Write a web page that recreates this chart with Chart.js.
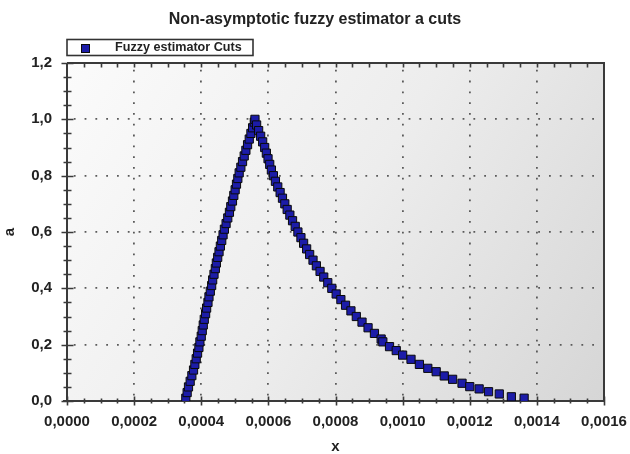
<!DOCTYPE html>
<html>
<head>
<meta charset="utf-8">
<script src="https://cdn.jsdelivr.net/npm/chart.js@4/dist/chart.umd.min.js"></script>
<style>
  html, body { margin: 0; padding: 0; background: #ffffff; }
  #wrap { width: 630px; height: 454px; }
</style>
</head>
<body>
<div id="wrap"><canvas id="c" width="630" height="454"></canvas></div>
<script>
// ---- data ----
const chartTitle = 'Non-asymptotic fuzzy estimator a cuts';
const seriesLabel = 'Fuzzy estimator Cuts';
const xAxisTitle = 'x';
const yAxisTitle = 'a';

const xTickLabels = ['0,0000', '0,0002', '0,0004', '0,0006', '0,0008', '0,0010', '0,0012', '0,0014', '0,0016'];
const yTickLabels = ['0,0', '0,2', '0,4', '0,6', '0,8', '1,0', '1,2'];

// rising branch (left side of the peak)
const leftBranchA = [0.01, 0.03, 0.05, 0.07, 0.09, 0.11, 0.13, 0.15, 0.17, 0.19,
                     0.21, 0.23, 0.25, 0.27, 0.29, 0.31, 0.33, 0.35, 0.37, 0.39,
                     0.41, 0.43, 0.45, 0.47, 0.49, 0.51, 0.53, 0.55, 0.57, 0.59,
                     0.61, 0.63, 0.65, 0.67, 0.69, 0.71, 0.73, 0.75, 0.77, 0.79,
                     0.81, 0.83, 0.85, 0.87, 0.89, 0.91, 0.93, 0.95, 0.97, 0.99];
const leftBranchX = [0.000354, 0.000358, 0.000362, 0.000367, 0.000372, 0.000377, 0.000381, 0.000385, 0.000389, 0.000393,
                     0.000396, 0.000400, 0.000403, 0.000406, 0.000409, 0.000413, 0.000416, 0.000420, 0.000423, 0.000427,
                     0.000431, 0.000434, 0.000438, 0.000442, 0.000445, 0.000449, 0.000453, 0.000457, 0.000461, 0.000465,
                     0.000469, 0.000474, 0.000479, 0.000484, 0.000488, 0.000493, 0.000497, 0.000501, 0.000505, 0.000509,
                     0.000513, 0.000518, 0.000523, 0.000528, 0.000533, 0.000538, 0.000543, 0.000548, 0.000553, 0.000558];

// falling branch (right side of the peak)
const rightBranchA = [1.00, 0.98, 0.96, 0.94, 0.92, 0.90, 0.88, 0.86, 0.84, 0.82,
                      0.80, 0.78, 0.76, 0.74, 0.72, 0.70, 0.68, 0.66, 0.64, 0.62,
                      0.60, 0.58, 0.56, 0.54, 0.52, 0.50, 0.48, 0.46, 0.44, 0.42,
                      0.40, 0.38, 0.36, 0.34, 0.32, 0.30, 0.28, 0.26, 0.24, 0.22,
                      0.210, 0.193, 0.179, 0.163, 0.148, 0.130, 0.116, 0.104, 0.089, 0.077,
                      0.063, 0.051, 0.043, 0.033, 0.025, 0.015, 0.010];
const rightBranchX = [0.000560, 0.000565, 0.000571, 0.000577, 0.000583, 0.000589, 0.000594, 0.000599, 0.000604, 0.000609,
                      0.000615, 0.000621, 0.000628, 0.000635, 0.000642, 0.000649, 0.000656, 0.000664, 0.000672, 0.000680,
                      0.000688, 0.000697, 0.000705, 0.000714, 0.000723, 0.000733, 0.000743, 0.000754, 0.000765, 0.000777,
                      0.000789, 0.000802, 0.000816, 0.000830, 0.000846, 0.000862, 0.000879, 0.000897, 0.000916, 0.000936,
                      0.000941, 0.000961, 0.000981, 0.001000, 0.001025, 0.001050, 0.001075, 0.001100, 0.001124, 0.001149,
                      0.001177, 0.001200, 0.001228, 0.001256, 0.001288, 0.001324, 0.001362];

// ---- build the point table for the library ----
const points = [];
leftBranchX.forEach((x, i) => points.push({ x: x, y: leftBranchA[i] }));
rightBranchX.forEach((x, i) => points.push({ x: x, y: rightBranchA[i] }));

const X_MIN = 0, X_MAX = 0.0016, X_STEP = 0.0002;
const Y_MIN = 0, Y_MAX = 1.2, Y_STEP = 0.2;

const markerFill = '#1c1ca8';
const markerEdge = '#0a0a0a';
const axisColor = '#3a3a3a';
const textColor = '#222222';

// plot-area background gradient
const plotBackground = {
  id: 'plotBackground',
  beforeDraw(chart) {
    const { ctx, chartArea: a } = chart;
    const g = ctx.createLinearGradient(a.left, a.top, a.right, a.bottom);
    g.addColorStop(0, '#fbfbfb');
    g.addColorStop(0.5, '#ededed');
    g.addColorStop(1, '#d6d6d6');
    ctx.save();
    ctx.fillStyle = g;
    ctx.fillRect(a.left, a.top, a.right - a.left, a.bottom - a.top);
    ctx.restore();
  }
};

// frame, axis lines, major and minor tick marks
const frameAndTicks = {
  id: 'frameAndTicks',
  beforeDatasetsDraw(chart) {
    const { ctx, chartArea: a, scales } = chart;
    const xs = scales.x, ys = scales.y;
    ctx.save();
    ctx.strokeStyle = axisColor;
    ctx.lineWidth = 2;
    ctx.beginPath();
    // top and right frame
    ctx.moveTo(a.left, a.top); ctx.lineTo(a.right, a.top); ctx.lineTo(a.right, a.bottom);
    // axes
    ctx.moveTo(a.left - 4, a.bottom); ctx.lineTo(a.right, a.bottom);
    ctx.moveTo(a.left, a.top); ctx.lineTo(a.left, a.bottom);
    ctx.stroke();

    ctx.lineWidth = 1.6;
    ctx.beginPath();
    const nx = Math.round((X_MAX - X_MIN) / X_STEP) * 4;
    for (let i = 0; i <= nx; i++) {
      const px = Math.round(xs.getPixelForValue(X_MIN + i * X_STEP / 4)) + 0.5;
      const major = i % 4 === 0;
      const d = major ? 4.5 : 2.5;
      ctx.moveTo(px, a.bottom - d); ctx.lineTo(px, a.bottom + d);
      if (i > 0 && i < nx) { ctx.moveTo(px, a.top); ctx.lineTo(px, a.top + 4.5); }
    }
    const ny = Math.round((Y_MAX - Y_MIN) / Y_STEP) * 4;
    for (let j = 0; j <= ny; j++) {
      const py = Math.round(ys.getPixelForValue(Y_MIN + j * Y_STEP / 4)) + 0.5;
      const major = j % 4 === 0;
      ctx.moveTo(a.left - (major ? 5.5 : 3.5), py); ctx.lineTo(a.left + (major ? 6.5 : 4.5), py);
    }
    ctx.stroke();
    ctx.restore();
  }
};

// boxed legend in the top-left corner
const boxedLegend = {
  id: 'boxedLegend',
  afterDraw(chart) {
    const { ctx } = chart;
    const ds = chart.data.datasets[0];
    ctx.save();
    ctx.fillStyle = '#ffffff';
    ctx.fillRect(67, 39.5, 186, 16);
    ctx.strokeStyle = '#333333';
    ctx.lineWidth = 1.6;
    ctx.strokeRect(67, 39.5, 186, 16);
    ctx.fillStyle = ds.backgroundColor;
    ctx.fillRect(81.5, 44.5, 8, 8);
    ctx.strokeStyle = ds.borderColor;
    ctx.lineWidth = 1;
    ctx.strokeRect(81.5, 44.5, 8, 8);
    ctx.fillStyle = textColor;
    ctx.font = 'bold 12.6px "Liberation Sans", Arial, sans-serif';
    ctx.textBaseline = 'middle';
    ctx.textAlign = 'left';
    ctx.fillText(ds.label, 115, 48);
    ctx.restore();
  }
};

const fontFamily = '"Liberation Sans", Arial, Helvetica, sans-serif';
const gridDots = [1.8, 9];

new Chart(document.getElementById('c'), {
  type: 'scatter',
  data: {
    datasets: [{
      label: seriesLabel,
      data: points,
      showLine: false,
      pointStyle: 'rect',
      pointRadius: 5.8,
      pointHoverRadius: 5.8,
      backgroundColor: markerFill,
      borderColor: markerEdge,
      borderWidth: 1
    }]
  },
  options: {
    responsive: false,
    animation: false,
    devicePixelRatio: 1,
    layout: { padding: { left: 0, right: 0, top: 0, bottom: 0 } },
    plugins: {
      legend: { display: false },
      tooltip: { enabled: false },
      title: {
        display: true,
        text: chartTitle,
        color: textColor,
        font: { family: fontFamily, size: 16, weight: 'bold', lineHeight: 1.2 },
        padding: { top: 9.5, bottom: 34.3 }
      }
    },
    scales: {
      x: {
        type: 'linear',
        min: X_MIN, max: X_MAX,
        afterFit(scale) { scale.height = 53; scale.paddingLeft = 0; scale.paddingRight = 26; },
        grid: { color: '#5a5a5a', lineWidth: 1.8, drawTicks: false },
        border: { display: false, dash: gridDots, dashOffset: 4 },
        ticks: {
          stepSize: X_STEP,
          padding: 12,
          color: textColor,
          font: { family: fontFamily, size: 15, weight: 'bold' },
          maxRotation: 0,
          autoSkip: false,
          callback: (v, i) => xTickLabels[i]
        },
        title: {
          display: true, text: xAxisTitle, color: textColor,
          font: { family: fontFamily, size: 15, weight: 'bold', lineHeight: 1 },
          padding: { top: 0, bottom: 0 }
        }
      },
      y: {
        type: 'linear',
        min: Y_MIN, max: Y_MAX,
        afterFit(scale) { scale.width = 67; scale.paddingTop = 0; scale.paddingBottom = 0; },
        grid: { color: '#5a5a5a', lineWidth: 1.8, drawTicks: false },
        border: { display: false, dash: gridDots, dashOffset: 4 },
        ticks: {
          stepSize: Y_STEP,
          padding: 15,
          color: textColor,
          font: { family: fontFamily, size: 15, weight: 'bold' },
          autoSkip: false,
          callback: (v, i) => yTickLabels[i]
        },
        title: {
          display: true, text: yAxisTitle, color: textColor,
          font: { family: fontFamily, size: 15, weight: 'bold', lineHeight: 1 },
          padding: { top: 2, bottom: 0 }
        }
      }
    }
  },
  plugins: [plotBackground, frameAndTicks, boxedLegend]
});
</script>
</body>
</html>
